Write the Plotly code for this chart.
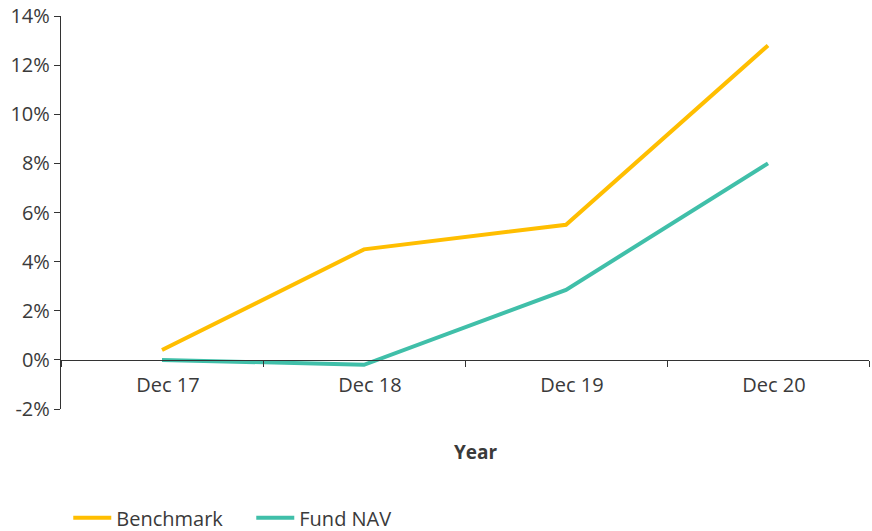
import plotly.graph_objects as go

years = ["Dec 17", "Dec 18", "Dec 19", "Dec 20"]
benchmark = [0.4, 4.5, 5.5, 12.8]
fund_nav = [0.0, -0.2, 2.85, 8.0]
y_tick_vals = [-2, 0, 2, 4, 6, 8, 10, 12, 14]
y_tick_text = ["-2%", "0%", "2%", "4%", "6%", "8%", "10%", "12%", "14%"]

FONT = "Open Sans"
TXT = "#3a3a3a"
AX = "#333333"

fig = go.Figure()
fig.add_trace(go.Scatter(x=years, y=benchmark, name="Benchmark", mode="lines",
                         line=dict(color="#FFBE00", width=4)))
fig.add_trace(go.Scatter(x=years, y=fund_nav, name="Fund NAV", mode="lines",
                         line=dict(color="#40BFA9", width=4)))

ymin, ymax = -2, 14
fig.update_layout(
    width=872, height=531,
    margin=dict(l=61, r=3, t=16, b=122),
    paper_bgcolor="white", plot_bgcolor="white",
    font=dict(family=FONT, size=20, color=TXT),
    showlegend=True,
    legend=dict(orientation="h", x=0.009, xanchor="left",
                yref="container", y=0.025, yanchor="middle",
                font=dict(size=20, color=TXT), itemwidth=38,
                entrywidth=130, entrywidthmode="pixels",
                traceorder="normal"),
    xaxis=dict(type="category", range=[-0.5, 3.5], showgrid=False, zeroline=False,
               showline=True, linecolor=AX, linewidth=1.3, automargin=False,
               ticks="outside", ticklen=6, tickcolor=AX, tickwidth=1.3,
               tickson="boundaries", anchor="free", ticklabelstandoff=7,
               ticklabelshift=6,
               position=(0 - ymin) / (ymax - ymin),
               tickfont=dict(size=20, color=TXT)),
    yaxis=dict(range=[ymin, ymax], showgrid=False, zeroline=False,
               showline=True, linecolor=AX, linewidth=1.3, automargin=False,
               ticks="outside", ticklen=6, tickcolor=AX, tickwidth=1.3,
               tickvals=y_tick_vals, ticktext=y_tick_text,
               tickfont=dict(size=20, color=TXT)),
    annotations=[dict(text="<b>Year</b>", x=0.514, y=-0.07, xref="paper", yref="paper",
                      showarrow=False, font=dict(size=19, color=TXT),
                      xanchor="center", yanchor="top")],
)

fig.write_html("out.html", config={"displayModeBar": False},
               post_script="document.body.style.margin='0';")
